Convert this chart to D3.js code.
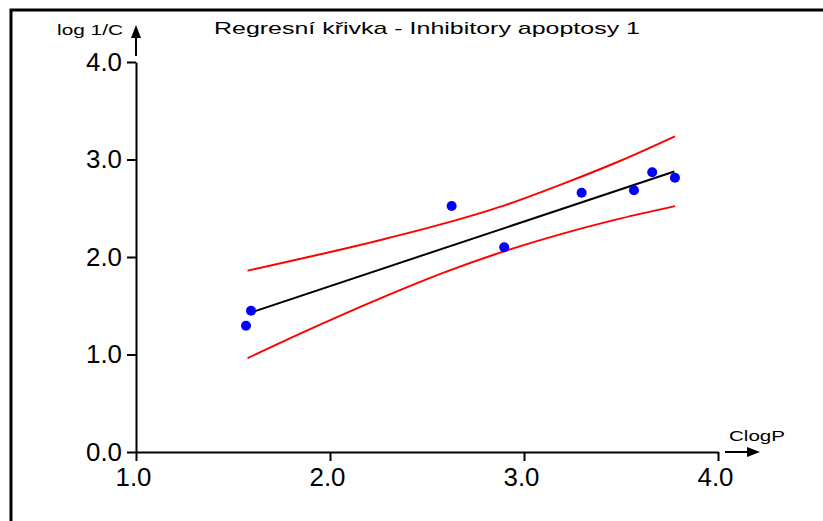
<!DOCTYPE html>
<html>
<head>
<meta charset="utf-8">
<script src="https://cdn.jsdelivr.net/npm/d3@7"></script>
<style>
  html, body { margin: 0; padding: 0; background: #fff; }
  svg { display: block; }
  text { font-family: "Liberation Sans", Arial, sans-serif; fill: #000; }
</style>
</head>
<body>
<svg id="chart" width="823" height="521"></svg>
<script>
// ---- data ----
const pointX = [1.567, 1.593, 2.627, 2.898, 3.297, 3.567, 3.661, 3.778];
const pointY = [1.295, 1.449, 2.523, 2.099, 2.659, 2.684, 2.869, 2.813];

const fitX = [1.600, 3.775];
const fitY = [1.436, 2.877];

const bandX     = [1.575, 1.90, 2.25, 2.60, 2.90, 3.20, 3.50, 3.778];
const bandUpper = [1.860, 2.005, 2.170, 2.350, 2.530, 2.750, 2.990, 3.238];
const bandLower = [0.962, 1.262, 1.568, 1.850, 2.060, 2.240, 2.396, 2.522];

const xTicks = [1.0, 2.0, 3.0, 4.0];
const yTicks = [0.0, 1.0, 2.0, 3.0, 4.0];

const titleText = "Regresní křivka - Inhibitory apoptosy 1";
const xLabel = "ClogP";
const yLabel = "log 1/C";

// ---- drawing ----
const svg = d3.select("#chart");
const x = d3.scaleLinear().domain([1, 4]).range([136, 718]);
const y = d3.scaleLinear().domain([0, 4]).range([452, 62]);

// frame (left + top border)
svg.append("path")
  .attr("d", "M11,521 L11,10 L823,10")
  .attr("fill", "none").attr("stroke", "#000").attr("stroke-width", 3);

// axes
const yAxis = d3.axisLeft(y).tickValues(yTicks).tickFormat(d3.format(".1f"))
  .tickSize(9).tickSizeOuter(0).tickPadding(5);
const xAxis = d3.axisBottom(x).tickValues(xTicks).tickFormat(d3.format(".1f"))
  .tickSize(9).tickSizeOuter(0).tickPadding(7);

const gy = svg.append("g").attr("transform", `translate(${x(1)},0)`).call(yAxis);
const gx = svg.append("g").attr("transform", `translate(0,${y(0)})`).call(xAxis);

[gx, gy].forEach(g => {
  g.select(".domain").attr("stroke", "#000").attr("stroke-width", 2);
  g.selectAll(".tick line").attr("stroke", "#000").attr("stroke-width", 2);
  g.selectAll(".tick text")
    .style("font-family", '"Liberation Sans", Arial, sans-serif')
    .style("font-size", "25px").attr("fill", "#000")
    .attr("textLength", 36).attr("lengthAdjust", "spacingAndGlyphs");
});
gx.selectAll(".tick text").attr("dx", -3);

// axis arrows
const ax0 = x(4) + 7, ax1 = x(4) + 42, ay = y(0);
svg.append("line").attr("x1", ax0).attr("x2", ax1 - 4).attr("y1", ay).attr("y2", ay)
  .attr("stroke", "#000").attr("stroke-width", 2);
svg.append("path")
  .attr("d", `M${ax1},${ay} L${ax1 - 13},${ay - 5} L${ax1 - 13},${ay + 5} Z`)
  .attr("fill", "#000");

const vx = x(1), vy0 = y(4) - 6, vy1 = 25;
svg.append("line").attr("x1", vx).attr("x2", vx).attr("y1", vy0).attr("y2", vy1 + 4)
  .attr("stroke", "#000").attr("stroke-width", 2);
svg.append("path")
  .attr("d", `M${vx},${vy1} L${vx - 5},${vy1 + 13} L${vx + 5},${vy1 + 13} Z`)
  .attr("fill", "#000");

// confidence band (red)
const lineGen = d3.line().x(d => x(d[0])).y(d => y(d[1])).curve(d3.curveMonotoneX);
svg.append("path").datum(bandX.map((v, i) => [v, bandUpper[i]]))
  .attr("d", lineGen).attr("fill", "none").attr("stroke", "#ff0000").attr("stroke-width", 2);
svg.append("path").datum(bandX.map((v, i) => [v, bandLower[i]]))
  .attr("d", lineGen).attr("fill", "none").attr("stroke", "#ff0000").attr("stroke-width", 2);

// regression line (black)
svg.append("path").datum(fitX.map((v, i) => [v, fitY[i]]))
  .attr("d", d3.line().x(d => x(d[0])).y(d => y(d[1])))
  .attr("fill", "none").attr("stroke", "#000").attr("stroke-width", 2);

// points (blue)
svg.append("g").selectAll("circle")
  .data(pointX.map((v, i) => [v, pointY[i]]))
  .join("circle")
  .attr("cx", d => x(d[0])).attr("cy", d => y(d[1])).attr("r", 5)
  .attr("fill", "#0000ff");

// texts
svg.append("text").attr("x", 214).attr("y", 34)
  .style("font-size", "17px")
  .attr("textLength", 426).attr("lengthAdjust", "spacingAndGlyphs")
  .text(titleText);
svg.append("text").attr("x", 57).attr("y", 35)
  .style("font-size", "14px")
  .attr("textLength", 66).attr("lengthAdjust", "spacingAndGlyphs")
  .text(yLabel);
svg.append("text").attr("x", 729).attr("y", 441)
  .style("font-size", "15px")
  .attr("textLength", 56).attr("lengthAdjust", "spacingAndGlyphs")
  .text(xLabel);
</script>
</body>
</html>
